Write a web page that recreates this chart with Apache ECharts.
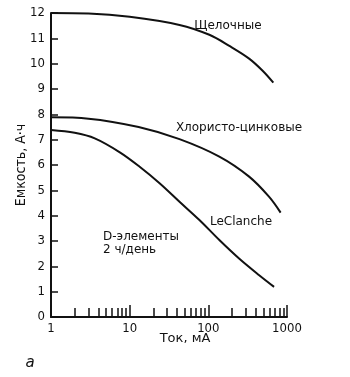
<!DOCTYPE html>
<html><head><meta charset="utf-8">
<script src="https://cdn.jsdelivr.net/npm/echarts@6/dist/echarts.min.js"></script>
<style>html,body{margin:0;padding:0;background:#fff}#c{width:350px;height:377px}</style>
</head><body><div id="c"></div>
<script>
const xMajorTicks = [1, 10, 100, 1000];
const xMinorTicks = [2,3,4,5,6,7,8,9,20,30,40,50,60,70,80,90,200,300,400,500,600,700,800,900];

const alkalineX = [1, 3, 10, 43, 103, 185, 330, 490, 670];
const alkalineY = [12.0, 11.98, 11.85, 11.53, 11.14, 10.7, 10.2, 9.72, 9.25];

const zincX = [1, 3, 13, 43, 138, 330, 590, 830];
const zincY = [7.88, 7.83, 7.5, 7.02, 6.33, 5.54, 4.75, 4.12];

const leclancheX = [1, 2, 3.6, 7.5, 13.4, 24, 43, 77, 138, 246, 443, 685];
const leclancheY = [7.38, 7.27, 7.05, 6.5, 5.93, 5.28, 4.55, 3.83, 3.04, 2.31, 1.65, 1.19];

const seriesNames = ['Щелочные', 'Хлористо-цинковые', 'LeClanche'];

const NARROW = "'Liberation Sans Narrow','DejaVu Sans Condensed',sans-serif";
const SANS = "'DejaVu Sans',sans-serif";
const ink = '#111';

function pairs(xs, ys){ return xs.map((x,i)=>[x, ys[i]]); }

const chart = echarts.init(document.getElementById('c'), null, {renderer:'canvas'});
const lineSeries = (name, xs, ys) => ({
  name, type:'line', data: pairs(xs, ys), smooth: 0.35, showSymbol:false,
  lineStyle:{color:ink, width:2}, xAxisIndex:0, yAxisIndex:0, silent:true
});
chart.setOption({
  animation:false,
  backgroundColor:'#fff',
  grid:{left:51, right:63, top:13, bottom:60, containLabel:false},
  xAxis:[{
    type:'log', logBase:10, min:1, max:1000, position:'bottom',
    axisLine:{show:true, onZero:false, lineStyle:{color:ink, width:2}},
    axisTick:{show:true, inside:true, length:12, customValues:xMajorTicks, lineStyle:{color:ink, width:1.5}},
    axisLabel:{show:true, customValues:xMajorTicks, formatter: v => String(v), color:ink, fontSize:13, fontFamily:NARROW, margin:5},
    splitLine:{show:false}, minorTick:{show:false}
  },{
    type:'log', logBase:10, min:1, max:1000, position:'bottom',
    axisLine:{show:false, onZero:false},
    axisTick:{show:true, inside:true, length:9, customValues:xMinorTicks, lineStyle:{color:ink, width:1.5}},
    axisLabel:{show:false}, splitLine:{show:false}
  }],
  yAxis:{
    type:'value', min:0, max:12, interval:1,
    axisLine:{show:true, lineStyle:{color:ink, width:2}},
    axisTick:{show:true, inside:true, length:7, lineStyle:{color:ink, width:1.5}},
    axisLabel:{color:ink, fontSize:13, fontFamily:NARROW, margin:6},
    splitLine:{show:false},
    name:'Емкость, А·ч', nameLocation:'middle', nameRotate:90, nameGap:23, nameMoveOverlap:false,
    nameTextStyle:{color:ink, fontSize:14, fontFamily:NARROW}
  },
  series:[
    lineSeries(seriesNames[0], alkalineX, alkalineY),
    lineSeries(seriesNames[1], zincX, zincY),
    lineSeries(seriesNames[2], leclancheX, leclancheY)
  ],
  graphic:[
    {type:'text', x:228, y:26, style:{text:'Щелочные', align:'center', verticalAlign:'middle', fill:ink, font:'12px '+SANS}},
    {type:'text', x:239, y:128, style:{text:'Хлористо-цинковые', align:'center', verticalAlign:'middle', fill:ink, font:'12px '+SANS}},
    {type:'text', x:241, y:222, style:{text:'LeClanche', align:'center', verticalAlign:'middle', fill:ink, font:'12px '+SANS}},
    {type:'text', x:103, y:237, style:{text:'D-элементы', align:'left', verticalAlign:'middle', fill:ink, font:'12px '+SANS}},
    {type:'text', x:103, y:250, style:{text:'2 ч/день', align:'left', verticalAlign:'middle', fill:ink, font:'12px '+SANS}},
    {type:'text', x:185, y:339, style:{text:'Ток, мА', align:'center', verticalAlign:'middle', fill:ink, font:'13px '+SANS}},
    {type:'text', x:30, y:363, style:{text:'а', align:'center', verticalAlign:'middle', fill:ink, font:'italic 15px '+SANS}}
  ]
});
</script></body></html>
